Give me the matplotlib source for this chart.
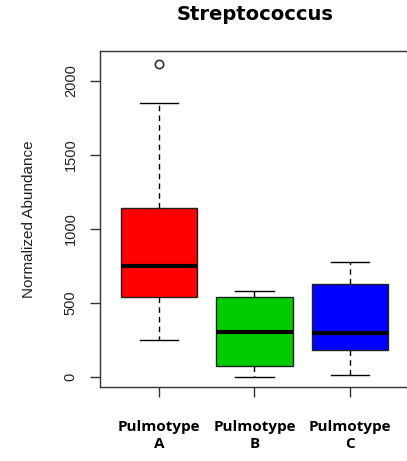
import matplotlib
matplotlib.use("Agg")
import matplotlib.pyplot as plt

# values
groups = ["Pulmotype\nA", "Pulmotype\nB", "Pulmotype\nC"]
q1 = [541, 76, 180]
medians = [750, 301, 300]
q3 = [1144, 542, 628]
whisker_low = [250, 2, 13]
whisker_high = [1849, 583, 777]
outliers = [[2113], [], []]
box_colors = ["#ff0000", "#00cc00", "#0000ff"]
y_ticks = [0, 500, 1000, 1500, 2000]

W, H = 407, 461
fig = plt.figure(figsize=(W / 100, H / 100), dpi=100)
ax = fig.add_axes([100 / W, 1 - 387 / H, 309 / W, 336 / H])

stats = []
for i in range(len(groups)):
    stats.append({"q1": q1[i], "med": medians[i], "q3": q3[i],
                  "whislo": whisker_low[i], "whishi": whisker_high[i],
                  "fliers": outliers[i]})

bp = ax.bxp(stats, positions=[1, 2, 3], widths=0.8, patch_artist=True,
            boxprops=dict(edgecolor="#222222", linewidth=1.0),
            medianprops=dict(color="black", linewidth=3.0, solid_capstyle="butt"),
            whiskerprops=dict(color="black", linewidth=1.0, linestyle=(0, (4, 3))),
            capprops=dict(color="black", linewidth=1.0),
            capwidths=0.4,
            flierprops=dict(marker="o", markersize=6, markerfacecolor="none",
                            markeredgecolor="#333333", markeredgewidth=1.2))
for patch, c in zip(bp["boxes"], box_colors):
    patch.set_facecolor(c)

ax.set_xlim(0.38, 3.62)
ax.set_ylim(-68, 2203)

for s in ax.spines.values():
    s.set_linewidth(1.0)
    s.set_color("#333333")

ax.set_yticks(y_ticks)
ax.set_yticklabels([str(t) for t in y_ticks], rotation=90, va="center",
                   fontsize=10.5, family="Liberation Sans", color="#222222")
ax.tick_params(axis="y", length=7, width=1.0, pad=9, color="#333333")
ax.set_xticks([1, 2, 3])
ax.set_xticklabels([])
ax.tick_params(axis="x", length=7, width=1.0, color="#333333")

# bold labels under the ticks
for x, lab in zip([1, 2, 3], groups):
    ax.text(x, -0.097, lab, transform=ax.get_xaxis_transform(), ha="center",
            va="top", fontsize=11, fontweight="bold", family="Open Sans",
            linespacing=1.35)

ax.set_ylabel("Normalized Abundance", fontsize=11, family="Liberation Sans",
              color="#222222", labelpad=20)

fig.text(255 / W, 1 - 15 / H, "Streptococcus", ha="center", va="center",
         fontsize=14, fontweight="bold", family="DejaVu Sans")

fig.savefig("out.png", dpi=100)
